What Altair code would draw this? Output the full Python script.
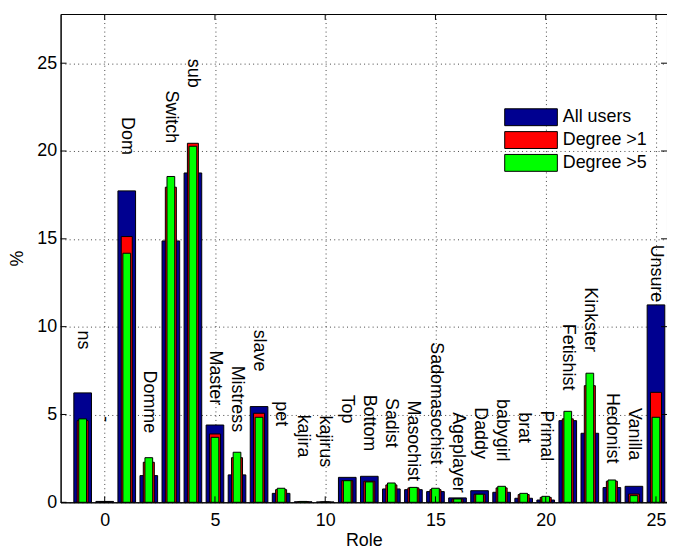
import altair as alt
import pandas as pd

# ---- data ----
roles = list(range(-1, 26))
labels = ["ns", "-", "Dom", "Domme", "Switch", "sub", "Master", "Mistress", "slave",
          "pet", "kajira", "kajirus", "Top", "Bottom", "Sadist", "Masochist",
          "Sadomasochist", "Ageplayer", "Daddy", "babygirl", "brat", "Primal",
          "Fetishist", "Kinkster", "Hedonist", "Vanilla", "Unsure"]
all_users = [6.23, 0.05, 17.73, 1.52, 14.88, 18.75, 4.40, 1.56, 5.45, 0.51, 0.03, 0.02,
             1.42, 1.48, 0.76, 0.72, 0.61, 0.25, 0.66, 0.57, 0.23, 0.13, 4.65, 3.93,
             0.84, 0.91, 11.24]
degree_gt1 = [4.65, 0.0, 15.13, 2.28, 17.94, 20.44, 3.89, 2.54, 5.07, 0.72, 0.03, 0.01,
              1.23, 1.20, 0.99, 0.82, 0.72, 0.19, 0.46, 0.82, 0.44, 0.28, 4.75, 6.64,
              1.20, 0.47, 6.26]
degree_gt5 = [4.75, 0.0, 14.18, 2.54, 18.55, 20.27, 3.70, 2.85, 4.84, 0.80, 0.05, 0.01,
              1.23, 1.16, 1.10, 0.85, 0.80, 0.19, 0.46, 0.91, 0.51, 0.34, 5.18, 7.35,
              1.27, 0.38, 4.84]
label_y = [9.78, 4.9, 21.93, 7.50, 23.44, 25.25, 8.64, 7.78, 9.83, 5.75, 4.99, 4.94,
           6.13, 6.13, 5.94, 5.79, 9.11, 5.13, 5.41, 5.88, 5.13, 5.22, 10.16, 12.24,
           6.23, 5.37, 14.67]
series_names = ["All users", "Degree >1", "Degree >5"]
series_colors = ["#000090", "#ff0000", "#00ff00"]
bar_widths = [0.8, 0.5, 0.35]
x_ticks = [0, 5, 10, 15, 20, 25]
y_ticks = [0, 5, 10, 15, 20, 25]

FONT = "Liberation Sans"
W, H = 611, 492

rows = []
for name, vals, bw in zip(series_names, [all_users, degree_gt1, degree_gt5], bar_widths):
    for r, v in zip(roles, vals):
        rows.append({"role": r, "value": v, "series": name, "half": bw / 2})
df = pd.DataFrame(rows)
lab_df = pd.DataFrame({"role": roles, "label": labels, "ly": label_y})

xscale = alt.Scale(domain=[-2, 25.5], nice=False, zero=False)
yscale = alt.Scale(domain=[0, 27.8], nice=False, zero=True)
cscale = alt.Scale(domain=series_names, range=series_colors)

xaxis = alt.Axis(values=x_ticks, title="Role", format="d")
yaxis = alt.Axis(values=y_ticks, title="%", format="d")

layers = []
for i, name in enumerate(series_names):
    layer = (
        alt.Chart(df)
        .transform_filter(alt.datum.series == name)
        .transform_calculate(x0="datum.role - datum.half", x1="datum.role + datum.half",
                             base="0")
        .mark_bar(stroke="black", strokeWidth=1, opacity=1)
        .encode(
            x=alt.X("x0:Q", scale=xscale, axis=xaxis),
            x2="x1:Q",
            y=alt.Y("value:Q", scale=yscale, axis=yaxis),
            y2="base:Q",
            color=alt.Color(
                "series:N", scale=cscale,
                legend=alt.Legend(
                    title=None, orient="none", legendX=465, legendY=95,
                    symbolType="M-3.12,-1H3.12V1H-3.12Z", symbolSize=289,
                    symbolStrokeColor="black", symbolStrokeWidth=1, symbolOpacity=1,
                    labelFontSize=18, labelFont=FONT, labelColor="black",
                    labelOffset=23, rowPadding=1, padding=0,
                ),
            ),
        )
    )
    layers.append(layer)

text = alt.Chart(lab_df).mark_text(
    angle=90, align="left", baseline="middle", fontSize=18, font=FONT, color="black"
).encode(
    x=alt.X("role:Q", scale=xscale, axis=xaxis),
    y=alt.Y("ly:Q", scale=yscale, axis=yaxis),
    text="label:N",
)

# inward tick marks (MATLAB style)
ytick_df = pd.DataFrame({"t": y_ticks})
xtick_df = pd.DataFrame({"t": x_ticks})
yt_left = alt.Chart(ytick_df).mark_rule(color="black").encode(
    y=alt.Y("t:Q", scale=yscale, axis=yaxis), x=alt.value(0), x2=alt.value(6))
yt_right = alt.Chart(ytick_df).mark_rule(color="black").encode(
    y=alt.Y("t:Q", scale=yscale, axis=yaxis), x=alt.value(W - 6), x2=alt.value(W))
xt_bot = alt.Chart(xtick_df).mark_rule(color="black").encode(
    x=alt.X("t:Q", scale=xscale, axis=xaxis), y=alt.value(H - 6), y2=alt.value(H))
xt_top = alt.Chart(xtick_df).mark_rule(color="black").encode(
    x=alt.X("t:Q", scale=xscale, axis=xaxis), y=alt.value(0), y2=alt.value(6))

chart = (
    alt.layer(*layers, text, yt_left, yt_right, xt_bot, xt_top)
    .properties(width=W, height=H, autosize=alt.AutoSizeParams(type="none"),
                padding={"left": 53, "top": 4, "right": 0, "bottom": 46})
    .configure_view(stroke="black", strokeWidth=1)
    .configure_axis(
        grid=True, tickSize=0, labelFontSize=18, titleFontSize=18,
        domainColor="black", gridColor="#444", gridDash=[1, 3.3], labelColor="black",
        titleColor="black", titleFontWeight="normal", labelFont=FONT, titleFont=FONT,
        labelFlush=False,
    )
    .configure_axisX(labelPadding=9, titlePadding=3)
    .configure_axisY(labelPadding=4, titlePadding=10)
)

chart.save("out.html", embed_options={"renderer": "svg", "actions": False})
